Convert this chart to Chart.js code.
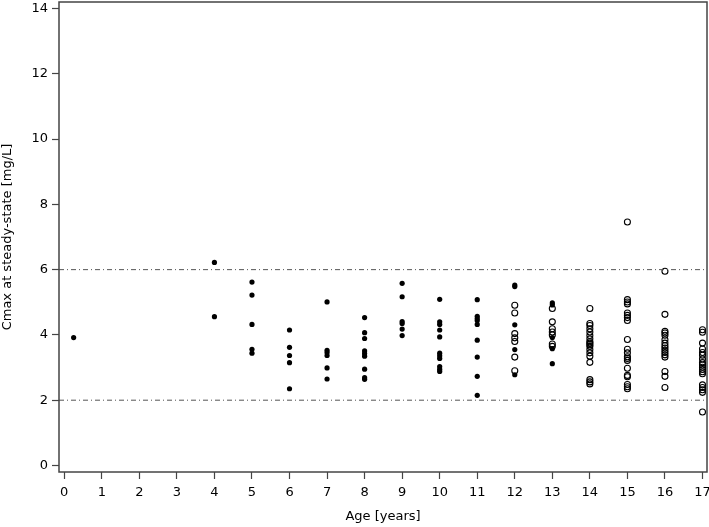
<!DOCTYPE html>
<html>
<head>
<meta charset="utf-8">
<script src="https://cdn.jsdelivr.net/npm/chart.js@4.4.1/dist/chart.umd.min.js"></script>
<style>
  body { margin: 0; background: #fff; }
  #wrap { width: 709px; height: 527px; }
</style>
</head>
<body>
<div id="wrap"><canvas id="myChart"></canvas></div>
<script>
// ages, one column of points each
const ages = [0.25, 4, 5, 6, 7, 8, 9, 10, 11, 12, 13, 14, 15, 16, 17]

// filled dots (same order as ages)
const solid = [
    [3.92],
    [6.22, 4.56],
    [5.62, 5.22, 4.32, 3.56, 3.44],
    [4.15, 3.62, 3.37, 3.15, 2.35],
    [5.01, 3.53, 3.46, 3.37, 2.99, 2.65],
    [4.53, 4.07, 3.89, 3.51, 3.43, 3.35, 2.95, 2.69, 2.64],
    [5.58, 5.17, 4.41, 4.35, 4.18, 3.98],
    [5.09, 4.40, 4.32, 4.15, 3.94, 3.44, 3.36, 3.28, 3.03, 2.95, 2.88],
    [5.08, 4.57, 4.50, 4.44, 4.32, 3.84, 3.32, 2.73, 2.15],
    [5.53, 5.48, 4.31, 3.55, 2.78],
    [4.98, 4.92, 3.92, 3.58, 3.12],
    [], [], [], []
]

// open circles (same order as ages)
const hollow = [
    [], [], [], [], [], [], [], [], [],
    [4.91, 4.67, 4.04, 3.91, 3.80, 3.32, 2.90],
    [4.81, 4.40, 4.19, 4.09, 4.00, 3.72, 3.65],
    [4.81, 4.35, 4.29, 4.19, 4.09, 3.98, 3.88, 3.79, 3.75, 3.70, 3.65, 3.55, 3.45, 3.35, 3.16, 2.63, 2.56, 2.50],
    [7.46, 5.08, 5.01, 4.95, 4.67, 4.60, 4.53, 4.44, 3.86, 3.56, 3.45, 3.33, 3.28, 3.22, 2.98, 2.76, 2.72, 2.48, 2.41, 2.35],
    [5.95, 4.63, 4.11, 4.06, 3.99, 3.85, 3.75, 3.67, 3.60, 3.53, 3.46, 3.39, 3.32, 2.88, 2.73, 2.39],
    [4.16, 4.08, 3.75, 3.57, 3.46, 3.38, 3.26, 3.15, 3.08, 3.01, 2.94, 2.87, 2.81, 2.47, 2.39, 2.32, 2.24, 1.64]
]

const refLines = [6, 2]
const xTicks = [0, 1, 2, 3, 4, 5, 6, 7, 8, 9, 10, 11, 12, 13, 14, 15, 16, 17]
const yTicks = [0, 2, 4, 6, 8, 10, 12, 14]

const xMin = -0.14
const xMax = 17.12
const yMin = -0.2
const yMax = 14.2

const axisColor = '#444'
const font = {family: 'DejaVu Sans', size: 13}

function toPoints(groups) {
    let pts = []
    groups.forEach((vals, i) => {
        vals.forEach(v => pts.push({x: ages[i], y: v}))
    })
    return pts
}

let datasets = []
refLines.forEach(r => {
    datasets.push({
        type: 'line',
        data: [{x: xMin, y: r}, {x: xMax, y: r}],
        borderColor: '#555',
        borderWidth: 1,
        borderDash: [5, 3, 1, 3],
        pointRadius: 0,
        fill: false
    })
})
datasets.push({
    data: toPoints(hollow),
    pointRadius: 3,
    pointBorderWidth: 1.1,
    pointBorderColor: '#000',
    pointBackgroundColor: 'rgba(0,0,0,0)'
})
datasets.push({
    data: toPoints(solid),
    pointRadius: 2.6,
    pointBorderWidth: 0,
    pointBackgroundColor: '#000'
})

const frame = {
    id: 'frame',
    afterDraw(chart) {
        const {ctx, chartArea: a} = chart
        ctx.save()
        ctx.strokeStyle = axisColor
        ctx.lineWidth = 1.5
        ctx.strokeRect(a.left, a.top, a.right - a.left, a.bottom - a.top)
        ctx.restore()
    }
}

new Chart(document.getElementById('myChart'), {
    type: 'scatter',
    data: {datasets},
    plugins: [frame],
    options: {
        animation: false,
        responsive: true,
        maintainAspectRatio: false,
        layout: {autoPadding: false, padding: {top: 2, right: 2, left: 0, bottom: 0}},
        plugins: {legend: {display: false}, tooltip: {enabled: false}},
        scales: {
            x: {
                type: 'linear',
                min: xMin,
                max: xMax,
                afterBuildTicks: s => { s.ticks = xTicks.map(v => ({value: v})) },
                afterFit: s => {
                    s.height = 55
                    s.paddingLeft = 0
                    s.paddingRight = 0
                },
                border: {display: false},
                grid: {drawOnChartArea: false, color: axisColor, tickLength: 7, tickWidth: 1.2},
                ticks: {color: '#000', font, padding: 6, maxRotation: 0, autoSkip: false},
                title: {display: true, text: 'Age [years]', color: '#000', font, padding: {top: 0, bottom: 3}}
            },
            y: {
                min: yMin,
                max: yMax,
                afterBuildTicks: s => { s.ticks = yTicks.map(v => ({value: v})) },
                afterFit: s => {
                    s.width = 59
                    s.paddingTop = 0
                    s.paddingBottom = 0
                },
                border: {display: false},
                grid: {drawOnChartArea: false, color: axisColor, tickLength: 7, tickWidth: 1.2},
                ticks: {color: '#000', font, padding: 4},
                title: {display: true, text: 'Cmax at steady-state [mg/L]', color: '#000', font, padding: 0}
            }
        }
    }
})
</script>
</body>
</html>
